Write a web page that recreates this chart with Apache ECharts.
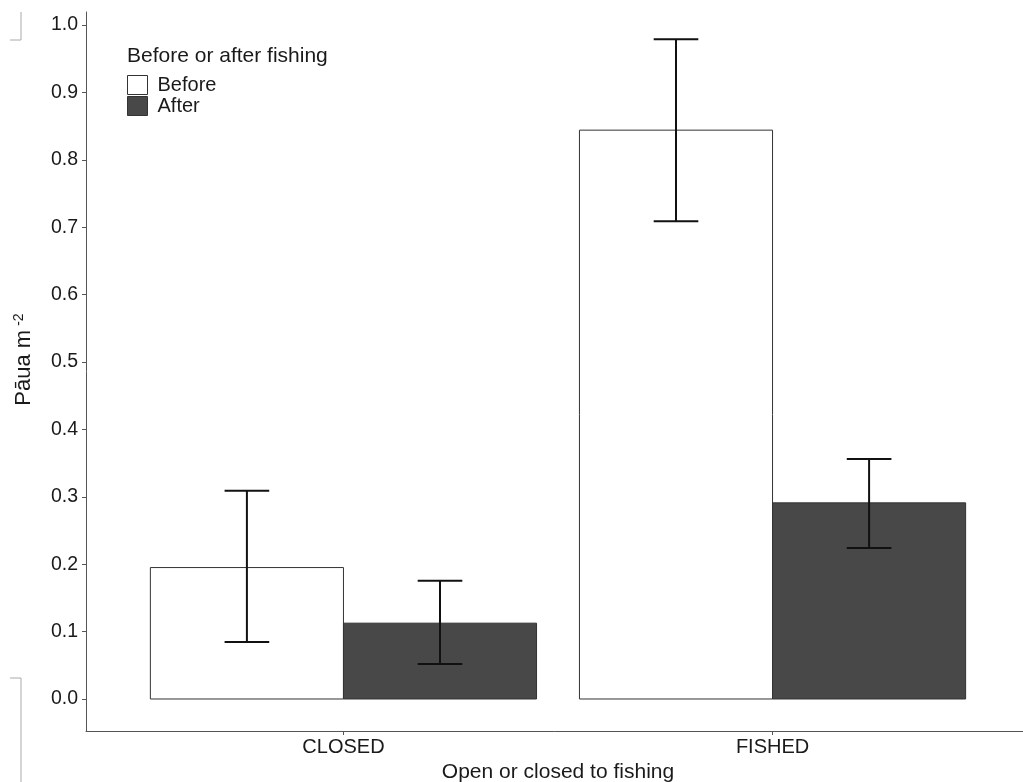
<!DOCTYPE html>
<html>
<head>
<meta charset="utf-8">
<script src="https://cdn.jsdelivr.net/npm/echarts@6/dist/echarts.min.js"></script>
<style>html,body{margin:0;padding:0;background:#fff;}#chart{width:1023px;height:782px;}</style>
</head>
<body>
<div id="chart"></div>
<script>
// ---- data ----
const categories = ['CLOSED', 'FISHED'];
const groups = ['Before', 'After'];
const beforeMean = [0.195, 0.844];
const beforeLow = [0.0845, 0.709];
const beforeHigh = [0.309, 0.979];
const afterMean = [0.1125, 0.291];
const afterLow = [0.052, 0.224];
const afterHigh = [0.1755, 0.356];
const yTicks = [0.0, 0.1, 0.2, 0.3, 0.4, 0.5, 0.6, 0.7, 0.8, 0.9, 1.0];

// ---- build ----
const FONT = 'Liberation Sans';
const TXT = '#1a1a1a';
const DODGE = 0.225, HALF = 0.225, CAP = 0.052;

function barData(vals) { return vals.map((v, i) => [i + 1, v]); }
function errData(lo, hi) { return lo.map((l, i) => [i + 1, l, hi[i]]); }

function barRender(offset, fill) {
  return function (params, api) {
    const c = api.value(0) + offset;
    const v = api.value(1);
    const p0 = api.coord([c - HALF, v]);
    const p1 = api.coord([c + HALF, 0]);
    return {
      type: 'rect',
      shape: { x: p0[0], y: p0[1], width: p1[0] - p0[0], height: p1[1] - p0[1] },
      style: { fill: fill, stroke: '#333', lineWidth: 1 }
    };
  };
}
function errRender(offset) {
  return function (params, api) {
    const c = api.value(0) + offset;
    const lo = api.coord([c, api.value(1)]);
    const hi = api.coord([c, api.value(2)]);
    const hl = api.coord([c - CAP, api.value(1)]);
    const hr = api.coord([c + CAP, api.value(1)]);
    const tl = api.coord([c - CAP, api.value(2)]);
    const tr = api.coord([c + CAP, api.value(2)]);
    const st = { stroke: '#111', lineWidth: 2 };
    return {
      type: 'group',
      children: [
        { type: 'line', shape: { x1: lo[0], y1: lo[1], x2: hi[0], y2: hi[1] }, style: st },
        { type: 'line', shape: { x1: hl[0], y1: hl[1], x2: hr[0], y2: hr[1] }, style: st },
        { type: 'line', shape: { x1: tl[0], y1: tl[1], x2: tr[0], y2: tr[1] }, style: st }
      ]
    };
  };
}

const chart = echarts.init(document.getElementById('chart'));
chart.setOption({
  animation: false,
  backgroundColor: '#fff',
  textStyle: { fontFamily: FONT },
  title: {
    text: 'Before or after fishing',
    left: 127, top: 46, padding: 0,
    textStyle: { fontFamily: FONT, fontSize: 21, fontWeight: 'normal', color: TXT }
  },
  legend: {
    data: [
      { name: 'Before', itemStyle: { color: '#ffffff', borderColor: '#333', borderWidth: 1 } },
      { name: 'After', itemStyle: { color: '#484848', borderColor: '#333', borderWidth: 1 } }
    ],
    orient: 'vertical',
    left: 127, top: 75, padding: 0,
    icon: 'rect', itemWidth: 20, itemHeight: 19, itemGap: 1,
    selectedMode: false,
    textStyle: { fontFamily: FONT, fontSize: 20, color: TXT, padding: [0, 0, 0, 5] }
  },
  grid: { left: 86, top: 12, width: 944, height: 719, containLabel: false, outerBoundsMode: 'none' },
  xAxis: {
    type: 'value', min: 0.4, max: 2.6,
    name: 'Open or closed to fishing', nameLocation: 'middle', nameGap: 29,
    nameTextStyle: { fontFamily: FONT, fontSize: 21, color: TXT },
    axisLine: { show: true, onZero: false, lineStyle: { color: '#555', width: 1 } },
    axisTick: { show: true, length: 4, lineStyle: { color: '#555' }, customValues: categories.map((c, i) => i + 1) },
    axisLabel: {
      customValues: categories.map((c, i) => i + 1),
      formatter: v => categories[Math.round(v) - 1] || '',
      fontFamily: FONT, fontSize: 20, color: TXT, margin: 6
    },
    splitLine: { show: false }
  },
  yAxis: {
    type: 'value', min: -0.0475, max: 1.0193,
    name: '{a|Pāua m}{s|-2}', nameLocation: 'middle', nameGap: 50, nameRotate: 90,
    nameTextStyle: {
      fontFamily: FONT, fontSize: 22, color: TXT, padding: [0, 0, 0, 24],
      rich: {
        a: { fontFamily: FONT, fontSize: 22, color: TXT },
        s: { fontFamily: FONT, fontSize: 14, color: TXT, verticalAlign: 'top', padding: [0, 0, 10, 4] }
      }
    },
    axisLine: { show: true, lineStyle: { color: '#555', width: 1 } },
    axisTick: { show: true, length: 4, lineStyle: { color: '#555' }, customValues: yTicks },
    axisLabel: {
      customValues: yTicks,
      formatter: v => v.toFixed(1),
      fontFamily: FONT, fontSize: 19.5, color: TXT, margin: 8
    },
    splitLine: { show: false }
  },
  graphic: [
    { type: 'polyline', shape: { points: [[21, 12], [21, 40], [10, 40]] }, style: { stroke: '#aaa', lineWidth: 1, fill: null } },
    { type: 'polyline', shape: { points: [[10, 678], [21, 678], [21, 782]] }, style: { stroke: '#aaa', lineWidth: 1, fill: null } }
  ],
  series: [
    { name: 'Before', type: 'custom', renderItem: barRender(-DODGE, '#ffffff'), data: barData(beforeMean),
      itemStyle: { color: '#ffffff', borderColor: '#333', borderWidth: 1 }, encode: { x: 0, y: 1 }, z: 2 },
    { name: 'After', type: 'custom', renderItem: barRender(DODGE, '#484848'), data: barData(afterMean),
      itemStyle: { color: '#484848', borderColor: '#333', borderWidth: 1 }, encode: { x: 0, y: 1 }, z: 2 },
    { name: 'errBefore', type: 'custom', renderItem: errRender(-DODGE), data: errData(beforeLow, beforeHigh),
      encode: { x: 0, y: [1, 2] }, z: 3 },
    { name: 'errAfter', type: 'custom', renderItem: errRender(DODGE), data: errData(afterLow, afterHigh),
      encode: { x: 0, y: [1, 2] }, z: 3 }
  ]
});
</script>
</body>
</html>
